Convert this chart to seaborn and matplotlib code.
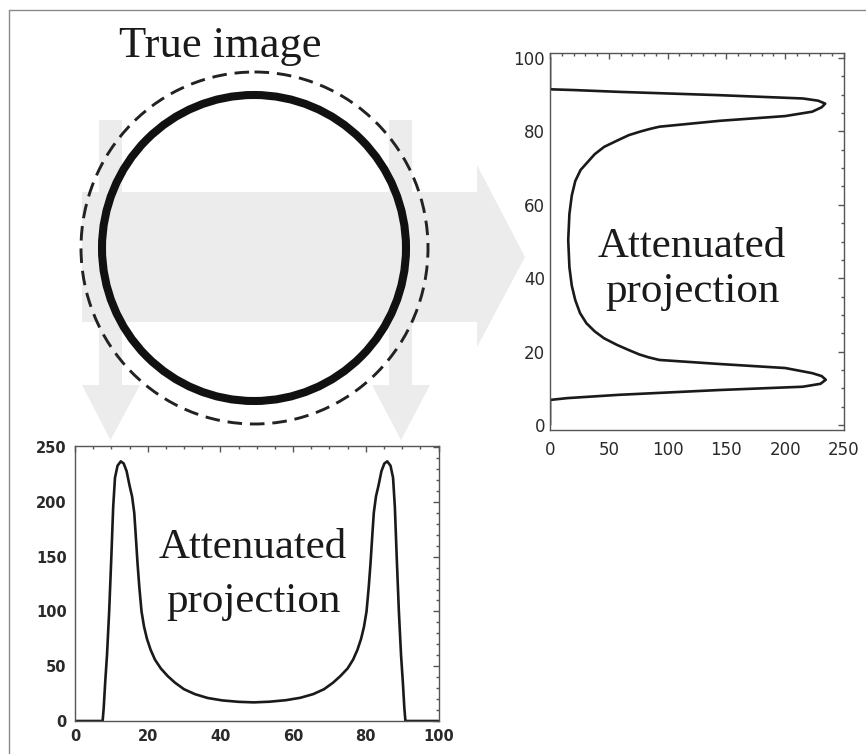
"""
True image (ring) with its two attenuated projections
"""

import numpy as np
import matplotlib
matplotlib.use('Agg')
import matplotlib.pyplot as plt
from matplotlib.patches import Ellipse, Polygon
from matplotlib.ticker import MultipleLocator
import seaborn as sns

# Horizontal-direction projection (bottom panel): position -> attenuated value
pos_bottom = [0, 7.6, 7.9, 8.3, 8.8, 9.4, 10.0, 10.5, 11.0, 11.7, 12.6, 13.4, 14.2,
              15.0, 15.7, 16.3, 16.7, 17.2, 17.7, 18.3, 19.0, 19.8, 20.8, 22.0, 23.6,
              25.5, 27.5, 30.0, 33.0, 36.5, 40.5, 45.0, 49.2,
              53.5, 58.0, 62.0, 65.5, 68.5, 71.0, 73.0, 75.0, 76.5, 77.7, 78.7, 79.5,
              80.2, 80.8, 81.3, 81.8, 82.2, 82.8, 83.5, 84.3, 85.1, 85.9, 86.8, 87.5,
              88.0, 88.5, 89.1, 89.7, 90.2, 90.6, 90.9, 100]
val_bottom = [0, 0, 12, 35, 60, 100, 150, 195, 222, 233, 237, 235, 228,
              215, 205, 190, 170, 144, 122, 100, 86, 75, 65, 56, 48,
              41, 35, 29, 24.5, 21, 18.8, 17.5, 17,
              17.6, 19, 21.2, 24.5, 29, 35, 41, 48, 56, 65, 75, 86,
              100, 122, 144, 170, 190, 205, 215, 228, 235, 237, 233, 222,
              195, 150, 100, 60, 35, 12, 0, 0]

# Vertical-direction projection (right panel): position -> attenuated value
pos_right = [0, 6.8, 7.3, 8.2, 9.5, 10.4, 11.2, 12.3, 13.3, 14.1, 15.5, 16.6, 17.7,
             18.4, 19.2, 20.4, 21.8, 23.6, 25.5, 27.7, 30.5, 34.0, 38.0, 43.0, 50.4,
             57.5, 62.5, 66.5, 69.5, 71.3, 73.8, 75.8, 77.5, 79.0, 80.0, 80.7, 81.3,
             82.9, 84.2, 85.4, 86.6, 87.6, 88.4, 89.0, 89.9, 90.8, 91.3, 91.5, 100]
val_right = [0, 0, 15, 59, 144, 215, 230, 234.5, 231, 223, 200, 144, 93,
             84, 76, 67, 57, 46, 38, 31, 25.5, 21.5, 18.5, 16.5, 15.5,
             16.5, 18.5, 21.5, 26, 31, 38, 46, 57, 67, 77, 85, 93,
             144, 200, 223, 231, 234, 228, 215, 144, 59, 20, 0, 0]

W, H = 866, 754

sns.set_style("white")
plt.rcParams['font.family'] = ['DejaVu Sans']

fig = plt.figure(figsize=(W / 100, H / 100), dpi=100)

# background layer in pixel coordinates for the schematic
bg = fig.add_axes([0, 0, 1, 1], zorder=0)
bg.set_xlim(0, W)
bg.set_ylim(H, 0)
bg.axis('off')

# frame (left and top only)
bg.plot([9, 9], [H, 10], color='#8a8a8a', lw=1.0)
bg.plot([9, W], [10, 10], color='#8a8a8a', lw=1.0)

arrow_col = '#ececec'
# horizontal arrow
bg.add_patch(Polygon([(82, 192), (477, 192), (477, 165), (525, 257), (477, 347),
                      (477, 322), (82, 322)], closed=True, fc=arrow_col, ec='none', zorder=1))
# two vertical arrows
for sx0, sx1, hx0, hx1, tip in [(99, 122, 82, 140, 110.5), (389, 412, 372, 430, 401)]:
    bg.add_patch(Polygon([(sx0, 120), (sx1, 120), (sx1, 385), (hx1, 385), (tip, 440),
                          (hx0, 385), (sx0, 385)], closed=True, fc=arrow_col, ec='none', zorder=1))

# ring and its dashed outline
bg.add_patch(Ellipse((254, 248), 304, 306, fill=False, ec='#111111', lw=5.8, zorder=3))
bg.add_patch(Ellipse((254.5, 248), 347, 352, fill=False, ec='#222222', lw=2.1,
                     ls=(0, (5, 2.7)), zorder=3))

bg.text(220, 57, 'True image', family='Liberation Serif', fontsize=32,
        ha='center', va='baseline', color='#1a1a1a')


def style_axes(ax, xmaj, xmin, ymaj, ymin, size, weight, pad_x, pad_y):
    ax.xaxis.set_major_locator(MultipleLocator(xmaj))
    ax.xaxis.set_minor_locator(MultipleLocator(xmin))
    ax.yaxis.set_major_locator(MultipleLocator(ymaj))
    ax.yaxis.set_minor_locator(MultipleLocator(ymin))
    ax.tick_params(which='both', direction='in', top=True, right=True,
                   color='#555555', width=1.0)
    ax.tick_params(which='major', length=4.5)
    ax.tick_params(which='minor', length=2.3)
    ax.tick_params(axis='x', pad=pad_x)
    ax.tick_params(axis='y', pad=pad_y)
    for lab in ax.get_xticklabels() + ax.get_yticklabels():
        lab.set_fontsize(size)
        lab.set_fontweight(weight)
        lab.set_color('#2a2a2a')
    for sp in ax.spines.values():
        sp.set_color('#555555')
        sp.set_linewidth(1.0)
    ax.set_xlabel('')
    ax.set_ylabel('')


# right panel: vertical projection
ax_r = fig.add_axes([550 / W, 1 - 430 / H, (844 - 550) / W, (430 - 53) / H], zorder=2)
sns.lineplot(x=val_right, y=pos_right, sort=False, estimator=None, ax=ax_r,
             color='#1a1a1a', lw=1.9)
ax_r.set_xlim(0, 250)
ax_r.set_ylim(-1.4, 101.4)
style_axes(ax_r, 50, 10, 20, 5, 12, 'normal', 8, 3.5)
ax_r.text(692, 256.7, 'Attenuated', transform=bg.transData, family='Liberation Serif',
          fontsize=31, ha='center', va='baseline', color='#1a1a1a')
ax_r.text(692, 301.7, 'projection', transform=bg.transData, family='Liberation Serif',
          fontsize=31, ha='center', va='baseline', color='#1a1a1a')

# bottom panel: horizontal projection
ax_b = fig.add_axes([75 / W, 1 - 721 / H, (438.5 - 75) / W, (721 - 446) / H], zorder=2)
sns.lineplot(x=pos_bottom, y=val_bottom, sort=False, estimator=None, ax=ax_b,
             color='#1a1a1a', lw=1.9)
ax_b.set_xlim(0, 100)
ax_b.set_ylim(0, 251)
style_axes(ax_b, 20, 5, 50, 10, 10.5, 'bold', 6, 6)
ax_b.text(253, 558.3, 'Attenuated', transform=bg.transData, family='Liberation Serif',
          fontsize=31, ha='center', va='baseline', color='#1a1a1a')
ax_b.text(253, 611.7, 'projection', transform=bg.transData, family='Liberation Serif',
          fontsize=31, ha='center', va='baseline', color='#1a1a1a')

fig.savefig('out.png', dpi=100)
print("Saved out.png")
